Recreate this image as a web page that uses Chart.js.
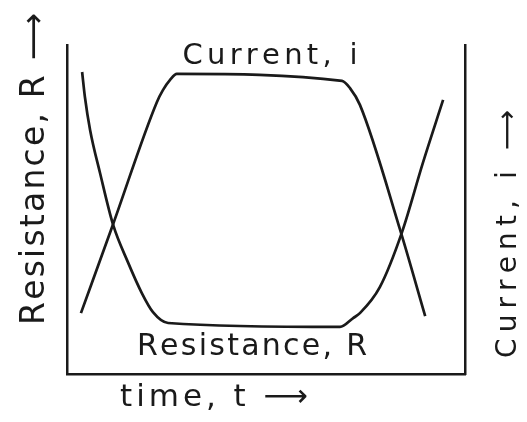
<!DOCTYPE html>
<html>
<head>
<meta charset="utf-8">
<script src="https://cdn.jsdelivr.net/npm/chart.js@4/dist/chart.umd.min.js"></script>
<style>
  html, body { margin: 0; padding: 0; background: #fff; }
  #wrap { width: 527px; height: 422px; }
</style>
</head>
<body>
<div id="wrap"><canvas id="chart" width="527" height="422"></canvas></div>
<script>
// time on a 0-100 scale, values on a 0-100 scale
const currentTime = [3.5, 11.6, 22.6, 24.1, 25.9, 27.6, 69.1, 71.1, 73.6, 83.7, 90.0];
const currentValue = [18.5, 45.6, 82.7, 86.3, 89.4, 91.2, 89.1, 86.9, 81.8, 43.8, 17.6];

const resistanceTime = [3.8, 4.5, 5.8, 8.3, 11.6, 15.3, 18.8, 21.6, 25.4, 68.6, 71.9, 73.6, 78.6, 84.2, 89.4, 94.5];
const resistanceValue = [91.8, 84.2, 74.2, 61.1, 45.3, 34.0, 24.6, 18.8, 15.5, 14.3, 17.0, 18.5, 26.4, 43.2, 64.1, 83.3];

const labels = {
  current: "Current, i",
  resistance: "Resistance, R",
  xTitle: "time, t \u27F6",
  yTitle: "Resistance, R \u27F6",
  y2Title: "Current, i \u27F6",
};

const ink = "#1a1a1a";

function toPoints(xs, ys) {
  return xs.map((x, i) => ({ x, y: ys[i] }));
}

// draw text spread over a given length, centred on (x, y)
function drawSpread(ctx, text, x, y, angle, size, length) {
  ctx.save();
  ctx.translate(x, y);
  ctx.rotate(angle);
  ctx.font = `${size}px "DejaVu Sans"`;
  ctx.fillStyle = ink;
  ctx.textBaseline = "middle";
  ctx.textAlign = "left";
  const chars = [...text];
  const widths = chars.map((c) => ctx.measureText(c).width);
  const total = widths.reduce((a, b) => a + b, 0);
  const gap = chars.length > 1 ? (length - total) / (chars.length - 1) : 0;
  let pos = -length / 2;
  chars.forEach((c, i) => {
    ctx.fillText(c, pos, 0);
    pos += widths[i] + gap;
  });
  ctx.restore();
}

const sketchLabels = {
  id: "sketchLabels",
  afterDraw(chart) {
    const ctx = chart.ctx;
    drawSpread(ctx, labels.current, 270, 56, 0, 29, 175);
    drawSpread(ctx, labels.resistance, 252, 347, 0, 30, 230);
    drawSpread(ctx, labels.xTitle, 214, 398, 0, 31, 188);
    drawSpread(ctx, labels.yTitle, 35, 169, -Math.PI / 2, 33, 312);
    drawSpread(ctx, labels.y2Title, 509, 234, -Math.PI / 2, 28, 248);
  },
};

const hiddenAxis = (position) => ({
  type: "linear",
  position,
  min: 0,
  max: 100,
  ticks: { display: false },
  grid: { display: false, drawTicks: false },
  border: { display: true, color: ink, width: 2.5 },
});

new Chart(document.getElementById("chart"), {
  type: "line",
  data: {
    datasets: [
      {
        label: labels.current,
        data: toPoints(currentTime, currentValue),
        borderColor: ink,
        borderWidth: 2.7,
        pointRadius: 0,
        cubicInterpolationMode: "monotone",
        fill: false,
      },
      {
        label: labels.resistance,
        data: toPoints(resistanceTime, resistanceValue),
        borderColor: ink,
        borderWidth: 2.7,
        pointRadius: 0,
        cubicInterpolationMode: "monotone",
        fill: false,
      },
    ],
  },
  options: {
    responsive: false,
    animation: false,
    layout: { padding: { left: 67, right: 62, top: 45, bottom: 48 } },
    plugins: { legend: { display: false }, tooltip: { enabled: false } },
    scales: {
      x: hiddenAxis("bottom"),
      y: hiddenAxis("left"),
      y2: hiddenAxis("right"),
    },
  },
  plugins: [sketchLabels],
});
</script>
</body>
</html>
